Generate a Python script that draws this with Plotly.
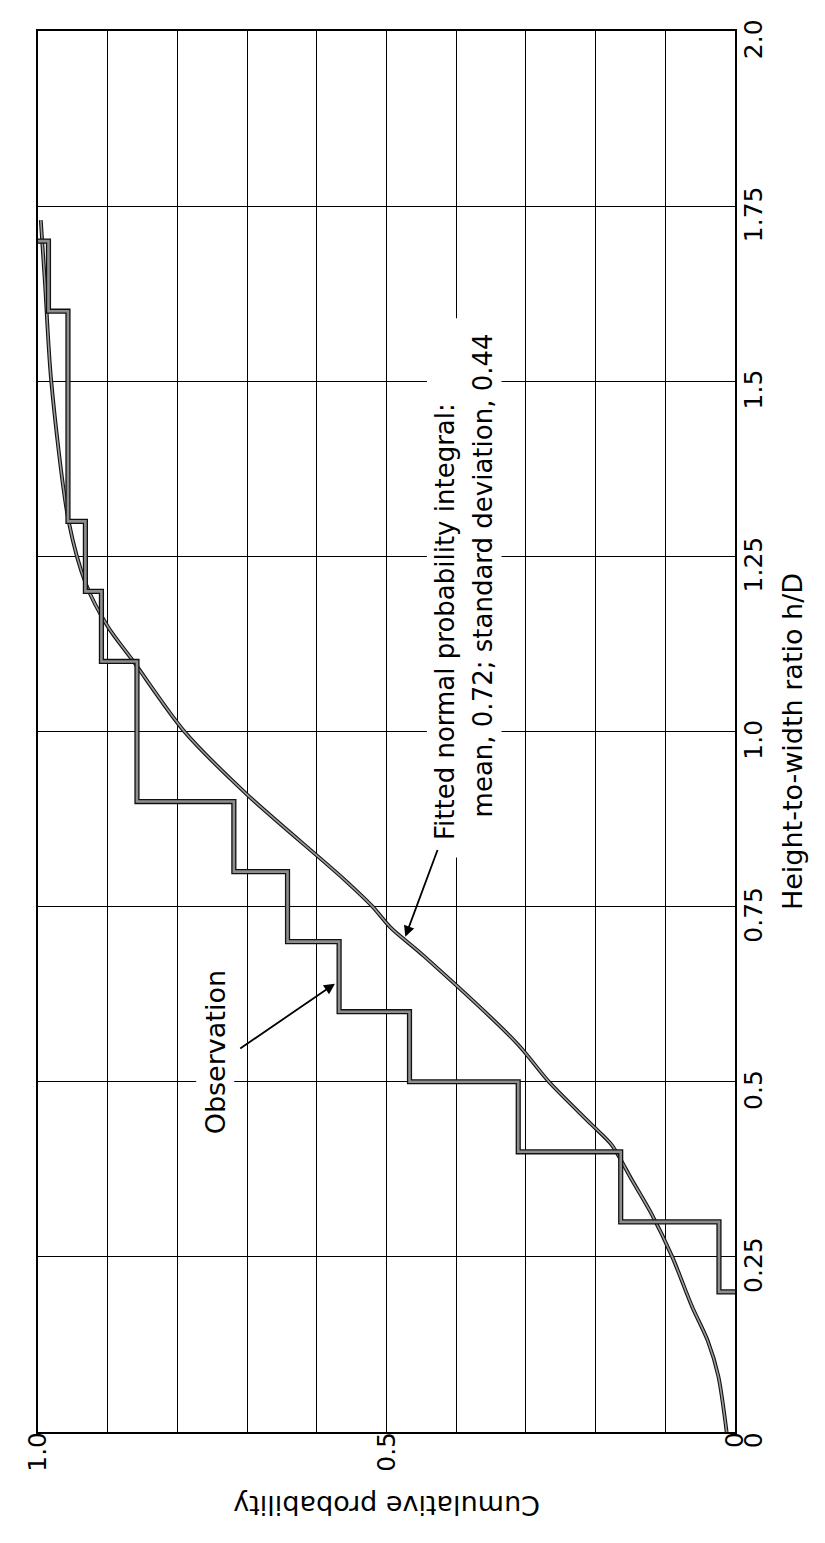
import plotly.graph_objects as go

# ---------------- data ----------------
# Observation: empirical cumulative probability, step at each h/D value
obs_hd = [0.2, 0.3, 0.4, 0.5, 0.6, 0.7, 0.8, 0.9, 1.1, 1.2, 1.3, 1.6, 1.7]
obs_prob = [0.023, 0.164, 0.311, 0.467, 0.568, 0.642, 0.719, 0.858, 0.909,
            0.932, 0.957, 0.985, 1.0]

# Fitted normal probability integral
fit_hd = [0.0, 0.08, 0.13, 0.18, 0.25, 0.31, 0.36, 0.41, 0.44, 0.50, 0.555,
          0.68, 0.72, 0.75, 0.79, 0.91, 1.0, 1.1, 1.15, 1.21, 1.30, 1.5,
          1.64, 1.73]
fit_prob = [0.012, 0.024, 0.039, 0.062, 0.09, 0.119, 0.148, 0.177, 0.207,
            0.267, 0.313, 0.447, 0.494, 0.52, 0.562, 0.70, 0.79, 0.863,
            0.90, 0.931, 0.956, 0.981, 0.99, 0.996]

# Axis ticks
prob_ticks = [0, 0.1, 0.2, 0.3, 0.4, 0.5, 0.6, 0.7, 0.8, 0.9, 1.0]
prob_labels = ["0", "", "", "", "", "0.5", "", "", "", "", "1.0"]
hd_ticks = [0, 0.25, 0.5, 0.75, 1.0, 1.25, 1.5, 1.75, 2.0]
hd_labels = ["0", "0.25", "0.5", "0.75", "1.0", "1.25", "1.5", "1.75", "2.0"]

FONT = "DejaVu Sans"

fig = go.Figure()

# fitted curve: dark outline with grey core
fig.add_trace(go.Scatter(x=fit_prob, y=fit_hd, mode="lines",
                         line=dict(color="#111111", width=3.8, shape="spline",
                                   smoothing=0.8),
                         hoverinfo="skip", showlegend=False))
fig.add_trace(go.Scatter(x=fit_prob, y=fit_hd, mode="lines",
                         line=dict(color="#9c9c9c", width=1.6, shape="spline",
                                   smoothing=0.8),
                         hoverinfo="skip", showlegend=False))

# observation step line
step_x = [0] + obs_prob
step_y = [obs_hd[0]] + obs_hd
fig.add_trace(go.Scatter(x=step_x, y=step_y, mode="lines",
                         line=dict(color="#111111", width=5.2, shape="vh"),
                         hoverinfo="skip", showlegend=False))
fig.add_trace(go.Scatter(x=step_x, y=step_y, mode="lines",
                         line=dict(color="#8e8e8e", width=2.6, shape="vh"),
                         hoverinfo="skip", showlegend=False))

axis_common = dict(showgrid=True, gridcolor="black", gridwidth=1.1,
                   showline=True, linecolor="black", linewidth=2, mirror=True,
                   ticks="", zeroline=False, automargin=False,
                   ticklabeloverflow="allow",
                   tickfont=dict(family=FONT, size=25, color="black"))

fig.update_xaxes(range=[1, 0], tickvals=prob_ticks, ticktext=prob_labels,
                 tickangle=-90, ticklabelstandoff=-12, **axis_common)
fig.update_yaxes(range=[0, 2], side="right", tickvals=hd_ticks,
                 ticktext=hd_labels, tickangle=-90, ticklabelstandoff=-5,
                 ticklabelshift=12, **axis_common)

# white box behind the fitted-curve label (interrupts the grid)
fig.add_shape(type="rect", xref="x", yref="y", x0=0.442, x1=0.335,
              y0=0.82, y1=1.59, fillcolor="white", line=dict(width=0),
              layer="between")

annots = [
    dict(text="Cumulative probability", xref="paper", yref="paper",
         x=0.5, y=-0.065, textangle=180, showarrow=False,
         font=dict(family=FONT, size=27, color="black")),
    dict(text="Height-to-width ratio h/D", xref="paper", yref="paper",
         x=1.108, y=0.493, textangle=-90, showarrow=False,
         font=dict(family=FONT, size=27, color="black")),
    dict(text="Observation", xref="x", yref="y", x=0.746, y=0.542,
         textangle=-90, showarrow=False, bgcolor="white", borderpad=3,
         font=dict(family=FONT, size=27, color="black")),
    dict(text="Fitted normal probability integral:", xref="x", yref="y",
         x=0.417, y=0.842, textangle=-90, showarrow=False,
         yanchor="bottom",
         font=dict(family=FONT, size=26, color="black")),
    dict(text="mean, 0.72; standard deviation, 0.44", xref="x", yref="y",
         x=0.361, y=0.875, textangle=-90, showarrow=False,
         yanchor="bottom",
         font=dict(family=FONT, size=26, color="black")),
    # arrows
    dict(text="", x=0.574, y=0.64, ax=0.712, ay=0.546, xref="x", yref="y",
         axref="x", ayref="y", showarrow=True, arrowhead=2, arrowsize=1.2,
         arrowwidth=1.8, arrowcolor="black", standoff=0),
    dict(text="", x=0.473, y=0.707, ax=0.426, ay=0.833, xref="x", yref="y",
         axref="x", ayref="y", showarrow=True, arrowhead=2, arrowsize=1.2,
         arrowwidth=1.8, arrowcolor="black", standoff=0),
]
fig.update_layout(annotations=annots)

fig.update_layout(width=825, height=1543,
                  margin=dict(l=30, r=98, t=23, b=119, autoexpand=False),
                  paper_bgcolor="white", plot_bgcolor="white",
                  showlegend=False)

fig.write_html("out.html")
